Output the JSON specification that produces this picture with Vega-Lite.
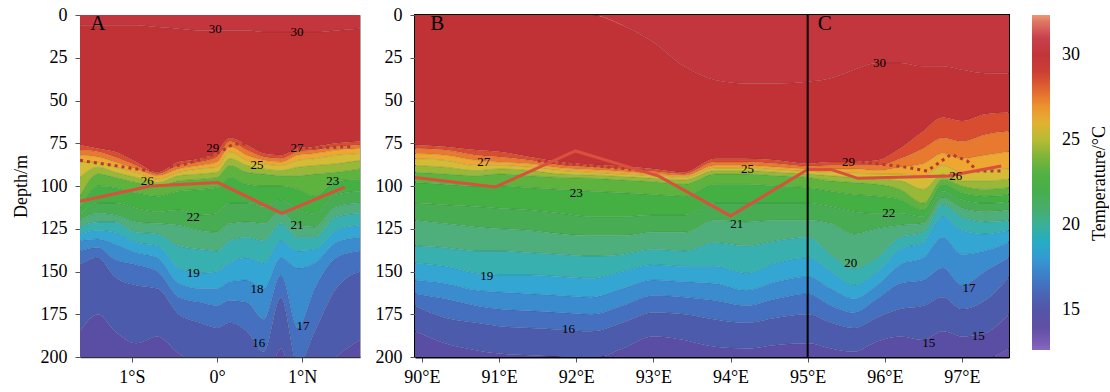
{
"$schema":"https://vega.github.io/schema/vega-lite/v6.json",
"background":"white",
"padding":{"left":11,"top":5,"right":0,"bottom":0},
"spacing":13,
"config":{
"font":"Liberation Serif",
"axis":{"labelFont":"Liberation Serif","titleFont":"Liberation Serif","labelFontSize":18,"titleFontSize":18,"titleFontWeight":"normal","labelColor":"#000","titleColor":"#000","grid":false,"tickColor":"#555","tickSize":5},
"text":{"font":"Liberation Serif"}
},
"datasets":{
"A":[
{"x":-1.61,"t":30.5,"d":0},{"x":-1.61,"t":29.5,"d":6},{"x":-1.61,"t":28.5,"d":76},{"x":-1.61,"t":27.5,"d":79},{"x":-1.61,"t":26.5,"d":82},{"x":-1.61,"t":25.5,"d":86},{"x":-1.61,"t":24.5,"d":95},{"x":-1.61,"t":23.5,"d":106},{"x":-1.61,"t":22.5,"d":113},{"x":-1.61,"t":21.5,"d":117},{"x":-1.61,"t":20.5,"d":120},{"x":-1.61,"t":19.5,"d":124},{"x":-1.61,"t":18.5,"d":128},{"x":-1.61,"t":17.5,"d":132},{"x":-1.61,"t":16.5,"d":138},{"x":-1.61,"t":15.5,"d":146},{"x":-1.61,"t":14.5,"d":185},{"x":-1.61,"t":0,"d":250},
{"x":-1.4,"t":30.5,"d":0},{"x":-1.4,"t":29.5,"d":6},{"x":-1.4,"t":28.5,"d":78},{"x":-1.4,"t":27.5,"d":80},{"x":-1.4,"t":26.5,"d":83},{"x":-1.4,"t":25.5,"d":86},{"x":-1.4,"t":24.5,"d":89},{"x":-1.4,"t":23.5,"d":93},{"x":-1.4,"t":22.5,"d":100},{"x":-1.4,"t":21.5,"d":110},{"x":-1.4,"t":20.5,"d":116},{"x":-1.4,"t":19.5,"d":121},{"x":-1.4,"t":18.5,"d":126},{"x":-1.4,"t":17.5,"d":131},{"x":-1.4,"t":16.5,"d":136},{"x":-1.4,"t":15.5,"d":142},{"x":-1.4,"t":14.5,"d":175},{"x":-1.4,"t":0,"d":250},
{"x":-1.2,"t":30.5,"d":0},{"x":-1.2,"t":29.5,"d":6},{"x":-1.2,"t":28.5,"d":80},{"x":-1.2,"t":27.5,"d":83},{"x":-1.2,"t":26.5,"d":86},{"x":-1.2,"t":25.5,"d":89},{"x":-1.2,"t":24.5,"d":92},{"x":-1.2,"t":23.5,"d":95},{"x":-1.2,"t":22.5,"d":101},{"x":-1.2,"t":21.5,"d":110},{"x":-1.2,"t":20.5,"d":117},{"x":-1.2,"t":19.5,"d":121},{"x":-1.2,"t":18.5,"d":127},{"x":-1.2,"t":17.5,"d":134},{"x":-1.2,"t":16.5,"d":143},{"x":-1.2,"t":15.5,"d":153},{"x":-1.2,"t":14.5,"d":185},{"x":-1.2,"t":0,"d":250},
{"x":-0.95,"t":30.5,"d":0},{"x":-0.95,"t":29.5,"d":6},{"x":-0.95,"t":28.5,"d":86},{"x":-0.95,"t":27.5,"d":88},{"x":-0.95,"t":26.5,"d":90},{"x":-0.95,"t":25.5,"d":92},{"x":-0.95,"t":24.5,"d":95},{"x":-0.95,"t":23.5,"d":98},{"x":-0.95,"t":22.5,"d":104},{"x":-0.95,"t":21.5,"d":113},{"x":-0.95,"t":20.5,"d":121},{"x":-0.95,"t":19.5,"d":127},{"x":-0.95,"t":18.5,"d":133},{"x":-0.95,"t":17.5,"d":139},{"x":-0.95,"t":16.5,"d":146},{"x":-0.95,"t":15.5,"d":158},{"x":-0.95,"t":14.5,"d":192},{"x":-0.95,"t":0,"d":250},
{"x":-0.7,"t":30.5,"d":0},{"x":-0.7,"t":29.5,"d":7},{"x":-0.7,"t":28.5,"d":92},{"x":-0.7,"t":27.5,"d":93},{"x":-0.7,"t":26.5,"d":94},{"x":-0.7,"t":25.5,"d":96},{"x":-0.7,"t":24.5,"d":98},{"x":-0.7,"t":23.5,"d":100},{"x":-0.7,"t":22.5,"d":106},{"x":-0.7,"t":21.5,"d":115},{"x":-0.7,"t":20.5,"d":122},{"x":-0.7,"t":19.5,"d":128},{"x":-0.7,"t":18.5,"d":135},{"x":-0.7,"t":17.5,"d":142},{"x":-0.7,"t":16.5,"d":150},{"x":-0.7,"t":15.5,"d":160},{"x":-0.7,"t":14.5,"d":188},{"x":-0.7,"t":0,"d":250},
{"x":-0.45,"t":30.5,"d":0},{"x":-0.45,"t":29.5,"d":8},{"x":-0.45,"t":28.5,"d":86},{"x":-0.45,"t":27.5,"d":88},{"x":-0.45,"t":26.5,"d":90},{"x":-0.45,"t":25.5,"d":92},{"x":-0.45,"t":24.5,"d":94},{"x":-0.45,"t":23.5,"d":97},{"x":-0.45,"t":22.5,"d":103},{"x":-0.45,"t":21.5,"d":114},{"x":-0.45,"t":20.5,"d":123},{"x":-0.45,"t":19.5,"d":135},{"x":-0.45,"t":18.5,"d":148},{"x":-0.45,"t":17.5,"d":157},{"x":-0.45,"t":16.5,"d":165},{"x":-0.45,"t":15.5,"d":175},{"x":-0.45,"t":14.5,"d":198},{"x":-0.45,"t":0,"d":250},
{"x":-0.2,"t":30.5,"d":0},{"x":-0.2,"t":29.5,"d":9},{"x":-0.2,"t":28.5,"d":84},{"x":-0.2,"t":27.5,"d":86},{"x":-0.2,"t":26.5,"d":88},{"x":-0.2,"t":25.5,"d":90},{"x":-0.2,"t":24.5,"d":93},{"x":-0.2,"t":23.5,"d":96},{"x":-0.2,"t":22.5,"d":102},{"x":-0.2,"t":21.5,"d":117},{"x":-0.2,"t":20.5,"d":126},{"x":-0.2,"t":19.5,"d":137},{"x":-0.2,"t":18.5,"d":151},{"x":-0.2,"t":17.5,"d":160},{"x":-0.2,"t":16.5,"d":168},{"x":-0.2,"t":15.5,"d":180},{"x":-0.2,"t":14.5,"d":205},{"x":-0.2,"t":0,"d":250},
{"x":0,"t":30.5,"d":0},{"x":0,"t":29.5,"d":9},{"x":0,"t":28.5,"d":80},{"x":0,"t":27.5,"d":83},{"x":0,"t":26.5,"d":86},{"x":0,"t":25.5,"d":89},{"x":0,"t":24.5,"d":92},{"x":0,"t":23.5,"d":95},{"x":0,"t":22.5,"d":101},{"x":0,"t":21.5,"d":116},{"x":0,"t":20.5,"d":127},{"x":0,"t":19.5,"d":138},{"x":0,"t":18.5,"d":150},{"x":0,"t":17.5,"d":160},{"x":0,"t":16.5,"d":170},{"x":0,"t":15.5,"d":183},{"x":0,"t":14.5,"d":210},{"x":0,"t":0,"d":250},
{"x":0.15,"t":30.5,"d":0},{"x":0.15,"t":29.5,"d":9},{"x":0.15,"t":28.5,"d":72},{"x":0.15,"t":27.5,"d":74},{"x":0.15,"t":26.5,"d":77},{"x":0.15,"t":25.5,"d":80},{"x":0.15,"t":24.5,"d":84},{"x":0.15,"t":23.5,"d":88},{"x":0.15,"t":22.5,"d":95},{"x":0.15,"t":21.5,"d":110},{"x":0.15,"t":20.5,"d":122},{"x":0.15,"t":19.5,"d":132},{"x":0.15,"t":18.5,"d":145},{"x":0.15,"t":17.5,"d":156},{"x":0.15,"t":16.5,"d":167},{"x":0.15,"t":15.5,"d":180},{"x":0.15,"t":14.5,"d":210},{"x":0.15,"t":0,"d":250},
{"x":0.35,"t":30.5,"d":0},{"x":0.35,"t":29.5,"d":9},{"x":0.35,"t":28.5,"d":76},{"x":0.35,"t":27.5,"d":79},{"x":0.35,"t":26.5,"d":82},{"x":0.35,"t":25.5,"d":85},{"x":0.35,"t":24.5,"d":88},{"x":0.35,"t":23.5,"d":92},{"x":0.35,"t":22.5,"d":99},{"x":0.35,"t":21.5,"d":110},{"x":0.35,"t":20.5,"d":121},{"x":0.35,"t":19.5,"d":130},{"x":0.35,"t":18.5,"d":142},{"x":0.35,"t":17.5,"d":155},{"x":0.35,"t":16.5,"d":168},{"x":0.35,"t":15.5,"d":185},{"x":0.35,"t":14.5,"d":215},{"x":0.35,"t":0,"d":250},
{"x":0.55,"t":30.5,"d":0},{"x":0.55,"t":29.5,"d":10},{"x":0.55,"t":28.5,"d":81},{"x":0.55,"t":27.5,"d":83},{"x":0.55,"t":26.5,"d":85},{"x":0.55,"t":25.5,"d":87},{"x":0.55,"t":24.5,"d":90},{"x":0.55,"t":23.5,"d":93},{"x":0.55,"t":22.5,"d":100},{"x":0.55,"t":21.5,"d":112},{"x":0.55,"t":20.5,"d":122},{"x":0.55,"t":19.5,"d":132},{"x":0.55,"t":18.5,"d":145},{"x":0.55,"t":17.5,"d":160},{"x":0.55,"t":16.5,"d":178},{"x":0.55,"t":15.5,"d":197},{"x":0.55,"t":14.5,"d":220},{"x":0.55,"t":0,"d":250},
{"x":0.75,"t":30.5,"d":0},{"x":0.75,"t":29.5,"d":10},{"x":0.75,"t":28.5,"d":82},{"x":0.75,"t":27.5,"d":84},{"x":0.75,"t":26.5,"d":86},{"x":0.75,"t":25.5,"d":88},{"x":0.75,"t":24.5,"d":91},{"x":0.75,"t":23.5,"d":94},{"x":0.75,"t":22.5,"d":100},{"x":0.75,"t":21.5,"d":108},{"x":0.75,"t":20.5,"d":115},{"x":0.75,"t":19.5,"d":122},{"x":0.75,"t":18.5,"d":132},{"x":0.75,"t":17.5,"d":142},{"x":0.75,"t":16.5,"d":152},{"x":0.75,"t":15.5,"d":165},{"x":0.75,"t":14.5,"d":195},{"x":0.75,"t":0,"d":250},
{"x":0.95,"t":30.5,"d":0},{"x":0.95,"t":29.5,"d":10},{"x":0.95,"t":28.5,"d":78},{"x":0.95,"t":27.5,"d":80},{"x":0.95,"t":26.5,"d":82},{"x":0.95,"t":25.5,"d":85},{"x":0.95,"t":24.5,"d":89},{"x":0.95,"t":23.5,"d":94},{"x":0.95,"t":22.5,"d":102},{"x":0.95,"t":21.5,"d":114},{"x":0.95,"t":20.5,"d":123},{"x":0.95,"t":19.5,"d":130},{"x":0.95,"t":18.5,"d":138},{"x":0.95,"t":17.5,"d":148},{"x":0.95,"t":16.5,"d":183},{"x":0.95,"t":15.5,"d":205},{"x":0.95,"t":14.5,"d":225},{"x":0.95,"t":0,"d":250},
{"x":1.15,"t":30.5,"d":0},{"x":1.15,"t":29.5,"d":10},{"x":1.15,"t":28.5,"d":77},{"x":1.15,"t":27.5,"d":79},{"x":1.15,"t":26.5,"d":81},{"x":1.15,"t":25.5,"d":84},{"x":1.15,"t":24.5,"d":88},{"x":1.15,"t":23.5,"d":93},{"x":1.15,"t":22.5,"d":106},{"x":1.15,"t":21.5,"d":116},{"x":1.15,"t":20.5,"d":124},{"x":1.15,"t":19.5,"d":130},{"x":1.15,"t":18.5,"d":137},{"x":1.15,"t":17.5,"d":145},{"x":1.15,"t":16.5,"d":160},{"x":1.15,"t":15.5,"d":185},{"x":1.15,"t":14.5,"d":215},{"x":1.15,"t":0,"d":250},
{"x":1.4,"t":30.5,"d":0},{"x":1.4,"t":29.5,"d":9},{"x":1.4,"t":28.5,"d":75},{"x":1.4,"t":27.5,"d":77},{"x":1.4,"t":26.5,"d":79},{"x":1.4,"t":25.5,"d":82},{"x":1.4,"t":24.5,"d":87},{"x":1.4,"t":23.5,"d":92},{"x":1.4,"t":22.5,"d":97},{"x":1.4,"t":21.5,"d":105},{"x":1.4,"t":20.5,"d":112},{"x":1.4,"t":19.5,"d":118},{"x":1.4,"t":18.5,"d":126},{"x":1.4,"t":17.5,"d":133},{"x":1.4,"t":16.5,"d":142},{"x":1.4,"t":15.5,"d":160},{"x":1.4,"t":14.5,"d":200},{"x":1.4,"t":0,"d":250},
{"x":1.68,"t":30.5,"d":0},{"x":1.68,"t":29.5,"d":8},{"x":1.68,"t":28.5,"d":74},{"x":1.68,"t":27.5,"d":76},{"x":1.68,"t":26.5,"d":78},{"x":1.68,"t":25.5,"d":81},{"x":1.68,"t":24.5,"d":85},{"x":1.68,"t":23.5,"d":90},{"x":1.68,"t":22.5,"d":96},{"x":1.68,"t":21.5,"d":103},{"x":1.68,"t":20.5,"d":110},{"x":1.68,"t":19.5,"d":116},{"x":1.68,"t":18.5,"d":123},{"x":1.68,"t":17.5,"d":130},{"x":1.68,"t":16.5,"d":138},{"x":1.68,"t":15.5,"d":150},{"x":1.68,"t":14.5,"d":190},{"x":1.68,"t":0,"d":250}
],
"B":[
{"x":89.91,"t":30.5,"d":0},{"x":89.91,"t":29.5,"d":0},{"x":89.91,"t":28.5,"d":76},{"x":89.91,"t":27.5,"d":78},{"x":89.91,"t":26.5,"d":81},{"x":89.91,"t":25.5,"d":84},{"x":89.91,"t":24.5,"d":88},{"x":89.91,"t":23.5,"d":92},{"x":89.91,"t":22.5,"d":98},{"x":89.91,"t":21.5,"d":110},{"x":89.91,"t":20.5,"d":120},{"x":89.91,"t":19.5,"d":135},{"x":89.91,"t":18.5,"d":145},{"x":89.91,"t":17.5,"d":155},{"x":89.91,"t":16.5,"d":163},{"x":89.91,"t":15.5,"d":170},{"x":89.91,"t":14.5,"d":185},{"x":89.91,"t":13.5,"d":205},{"x":89.91,"t":0,"d":250},
{"x":90.3,"t":30.5,"d":0},{"x":90.3,"t":29.5,"d":0},{"x":90.3,"t":28.5,"d":77},{"x":90.3,"t":27.5,"d":79},{"x":90.3,"t":26.5,"d":82},{"x":90.3,"t":25.5,"d":85},{"x":90.3,"t":24.5,"d":89},{"x":90.3,"t":23.5,"d":93},{"x":90.3,"t":22.5,"d":99},{"x":90.3,"t":21.5,"d":111},{"x":90.3,"t":20.5,"d":122},{"x":90.3,"t":19.5,"d":136},{"x":90.3,"t":18.5,"d":147},{"x":90.3,"t":17.5,"d":157},{"x":90.3,"t":16.5,"d":166},{"x":90.3,"t":15.5,"d":177},{"x":90.3,"t":14.5,"d":192},{"x":90.3,"t":13.5,"d":210},{"x":90.3,"t":0,"d":250},
{"x":90.7,"t":30.5,"d":0},{"x":90.7,"t":29.5,"d":0},{"x":90.7,"t":28.5,"d":79},{"x":90.7,"t":27.5,"d":82},{"x":90.7,"t":26.5,"d":85},{"x":90.7,"t":25.5,"d":88},{"x":90.7,"t":24.5,"d":91},{"x":90.7,"t":23.5,"d":94},{"x":90.7,"t":22.5,"d":100},{"x":90.7,"t":21.5,"d":112},{"x":90.7,"t":20.5,"d":124},{"x":90.7,"t":19.5,"d":138},{"x":90.7,"t":18.5,"d":151},{"x":90.7,"t":17.5,"d":161},{"x":90.7,"t":16.5,"d":170},{"x":90.7,"t":15.5,"d":180},{"x":90.7,"t":14.5,"d":196},{"x":90.7,"t":13.5,"d":215},{"x":90.7,"t":0,"d":250},
{"x":91.0,"t":30.5,"d":0},{"x":91.0,"t":29.5,"d":0},{"x":91.0,"t":28.5,"d":80},{"x":91.0,"t":27.5,"d":83},{"x":91.0,"t":26.5,"d":86},{"x":91.0,"t":25.5,"d":88},{"x":91.0,"t":24.5,"d":90},{"x":91.0,"t":23.5,"d":93},{"x":91.0,"t":22.5,"d":100},{"x":91.0,"t":21.5,"d":113},{"x":91.0,"t":20.5,"d":125},{"x":91.0,"t":19.5,"d":138},{"x":91.0,"t":18.5,"d":152},{"x":91.0,"t":17.5,"d":162},{"x":91.0,"t":16.5,"d":172},{"x":91.0,"t":15.5,"d":182},{"x":91.0,"t":14.5,"d":198},{"x":91.0,"t":13.5,"d":218},{"x":91.0,"t":0,"d":250},
{"x":91.4,"t":30.5,"d":0},{"x":91.4,"t":29.5,"d":0},{"x":91.4,"t":28.5,"d":83},{"x":91.4,"t":27.5,"d":85},{"x":91.4,"t":26.5,"d":87},{"x":91.4,"t":25.5,"d":89},{"x":91.4,"t":24.5,"d":91},{"x":91.4,"t":23.5,"d":94},{"x":91.4,"t":22.5,"d":101},{"x":91.4,"t":21.5,"d":114},{"x":91.4,"t":20.5,"d":126},{"x":91.4,"t":19.5,"d":139},{"x":91.4,"t":18.5,"d":152},{"x":91.4,"t":17.5,"d":163},{"x":91.4,"t":16.5,"d":173},{"x":91.4,"t":15.5,"d":183},{"x":91.4,"t":14.5,"d":199},{"x":91.4,"t":13.5,"d":220},{"x":91.4,"t":0,"d":250},
{"x":91.8,"t":30.5,"d":0},{"x":91.8,"t":29.5,"d":0},{"x":91.8,"t":28.5,"d":86},{"x":91.8,"t":27.5,"d":88},{"x":91.8,"t":26.5,"d":89.5},{"x":91.8,"t":25.5,"d":91},{"x":91.8,"t":24.5,"d":93},{"x":91.8,"t":23.5,"d":95},{"x":91.8,"t":22.5,"d":102},{"x":91.8,"t":21.5,"d":116},{"x":91.8,"t":20.5,"d":128},{"x":91.8,"t":19.5,"d":140},{"x":91.8,"t":18.5,"d":153},{"x":91.8,"t":17.5,"d":164},{"x":91.8,"t":16.5,"d":174},{"x":91.8,"t":15.5,"d":184},{"x":91.8,"t":14.5,"d":200},{"x":91.8,"t":13.5,"d":220},{"x":91.8,"t":0,"d":250},
{"x":92.2,"t":30.5,"d":0},{"x":92.2,"t":29.5,"d":0},{"x":92.2,"t":28.5,"d":87.5},{"x":92.2,"t":27.5,"d":89},{"x":92.2,"t":26.5,"d":90.5},{"x":92.2,"t":25.5,"d":92},{"x":92.2,"t":24.5,"d":93.5},{"x":92.2,"t":23.5,"d":95.5},{"x":92.2,"t":22.5,"d":103},{"x":92.2,"t":21.5,"d":118},{"x":92.2,"t":20.5,"d":129},{"x":92.2,"t":19.5,"d":141},{"x":92.2,"t":18.5,"d":154},{"x":92.2,"t":17.5,"d":165},{"x":92.2,"t":16.5,"d":175},{"x":92.2,"t":15.5,"d":185},{"x":92.2,"t":14.5,"d":201},{"x":92.2,"t":13.5,"d":220},{"x":92.2,"t":0,"d":250},
{"x":92.6,"t":30.5,"d":0},{"x":92.6,"t":29.5,"d":6},{"x":92.6,"t":28.5,"d":88.5},{"x":92.6,"t":27.5,"d":90},{"x":92.6,"t":26.5,"d":91.5},{"x":92.6,"t":25.5,"d":93},{"x":92.6,"t":24.5,"d":94.5},{"x":92.6,"t":23.5,"d":96.5},{"x":92.6,"t":22.5,"d":104},{"x":92.6,"t":21.5,"d":118},{"x":92.6,"t":20.5,"d":129},{"x":92.6,"t":19.5,"d":140},{"x":92.6,"t":18.5,"d":150},{"x":92.6,"t":17.5,"d":160},{"x":92.6,"t":16.5,"d":170},{"x":92.6,"t":15.5,"d":180},{"x":92.6,"t":14.5,"d":195},{"x":92.6,"t":13.5,"d":215},{"x":92.6,"t":0,"d":250},
{"x":93.0,"t":30.5,"d":0},{"x":93.0,"t":29.5,"d":16},{"x":93.0,"t":28.5,"d":90},{"x":93.0,"t":27.5,"d":91.5},{"x":93.0,"t":26.5,"d":93},{"x":93.0,"t":25.5,"d":94},{"x":93.0,"t":24.5,"d":95.5},{"x":93.0,"t":23.5,"d":97.5},{"x":93.0,"t":22.5,"d":105},{"x":93.0,"t":21.5,"d":117},{"x":93.0,"t":20.5,"d":127},{"x":93.0,"t":19.5,"d":137},{"x":93.0,"t":18.5,"d":146},{"x":93.0,"t":17.5,"d":155},{"x":93.0,"t":16.5,"d":164},{"x":93.0,"t":15.5,"d":174},{"x":93.0,"t":14.5,"d":188},{"x":93.0,"t":13.5,"d":210},{"x":93.0,"t":0,"d":250},
{"x":93.4,"t":30.5,"d":0},{"x":93.4,"t":29.5,"d":30},{"x":93.4,"t":28.5,"d":92},{"x":93.4,"t":27.5,"d":93},{"x":93.4,"t":26.5,"d":94},{"x":93.4,"t":25.5,"d":95},{"x":93.4,"t":24.5,"d":96.5},{"x":93.4,"t":23.5,"d":99},{"x":93.4,"t":22.5,"d":106},{"x":93.4,"t":21.5,"d":117},{"x":93.4,"t":20.5,"d":127},{"x":93.4,"t":19.5,"d":138},{"x":93.4,"t":18.5,"d":147},{"x":93.4,"t":17.5,"d":156},{"x":93.4,"t":16.5,"d":165},{"x":93.4,"t":15.5,"d":175},{"x":93.4,"t":14.5,"d":190},{"x":93.4,"t":13.5,"d":210},{"x":93.4,"t":0,"d":250},
{"x":93.8,"t":30.5,"d":0},{"x":93.8,"t":29.5,"d":38},{"x":93.8,"t":28.5,"d":84},{"x":93.8,"t":27.5,"d":86},{"x":93.8,"t":26.5,"d":88},{"x":93.8,"t":25.5,"d":89.5},{"x":93.8,"t":24.5,"d":91},{"x":93.8,"t":23.5,"d":93},{"x":93.8,"t":22.5,"d":99},{"x":93.8,"t":21.5,"d":110},{"x":93.8,"t":20.5,"d":120},{"x":93.8,"t":19.5,"d":133},{"x":93.8,"t":18.5,"d":147},{"x":93.8,"t":17.5,"d":157},{"x":93.8,"t":16.5,"d":167},{"x":93.8,"t":15.5,"d":178},{"x":93.8,"t":14.5,"d":194},{"x":93.8,"t":13.5,"d":215},{"x":93.8,"t":0,"d":250},
{"x":94.2,"t":30.5,"d":0},{"x":94.2,"t":29.5,"d":40},{"x":94.2,"t":28.5,"d":84},{"x":94.2,"t":27.5,"d":86},{"x":94.2,"t":26.5,"d":88},{"x":94.2,"t":25.5,"d":89.5},{"x":94.2,"t":24.5,"d":91},{"x":94.2,"t":23.5,"d":93},{"x":94.2,"t":22.5,"d":99},{"x":94.2,"t":21.5,"d":110},{"x":94.2,"t":20.5,"d":121},{"x":94.2,"t":19.5,"d":135},{"x":94.2,"t":18.5,"d":151},{"x":94.2,"t":17.5,"d":161},{"x":94.2,"t":16.5,"d":170},{"x":94.2,"t":15.5,"d":180},{"x":94.2,"t":14.5,"d":195},{"x":94.2,"t":13.5,"d":215},{"x":94.2,"t":0,"d":250},
{"x":94.6,"t":30.5,"d":0},{"x":94.6,"t":29.5,"d":40},{"x":94.6,"t":28.5,"d":85},{"x":94.6,"t":27.5,"d":87},{"x":94.6,"t":26.5,"d":89},{"x":94.6,"t":25.5,"d":90.5},{"x":94.6,"t":24.5,"d":92},{"x":94.6,"t":23.5,"d":94},{"x":94.6,"t":22.5,"d":100},{"x":94.6,"t":21.5,"d":110},{"x":94.6,"t":20.5,"d":120},{"x":94.6,"t":19.5,"d":132},{"x":94.6,"t":18.5,"d":145},{"x":94.6,"t":17.5,"d":156},{"x":94.6,"t":16.5,"d":166},{"x":94.6,"t":15.5,"d":177},{"x":94.6,"t":14.5,"d":193},{"x":94.6,"t":13.5,"d":212},{"x":94.6,"t":0,"d":250},
{"x":95.0,"t":30.5,"d":0},{"x":95.0,"t":29.5,"d":39},{"x":95.0,"t":28.5,"d":87},{"x":95.0,"t":27.5,"d":88.5},{"x":95.0,"t":26.5,"d":90},{"x":95.0,"t":25.5,"d":91.5},{"x":95.0,"t":24.5,"d":93},{"x":95.0,"t":23.5,"d":95},{"x":95.0,"t":22.5,"d":101},{"x":95.0,"t":21.5,"d":110},{"x":95.0,"t":20.5,"d":120},{"x":95.0,"t":19.5,"d":130},{"x":95.0,"t":18.5,"d":142},{"x":95.0,"t":17.5,"d":153},{"x":95.0,"t":16.5,"d":163},{"x":95.0,"t":15.5,"d":175},{"x":95.0,"t":14.5,"d":192},{"x":95.0,"t":13.5,"d":210},{"x":95.0,"t":0,"d":250},
{"x":95.3,"t":30.5,"d":0},{"x":95.3,"t":29.5,"d":37},{"x":95.3,"t":28.5,"d":86},{"x":95.3,"t":27.5,"d":88},{"x":95.3,"t":26.5,"d":90},{"x":95.3,"t":25.5,"d":92},{"x":95.3,"t":24.5,"d":94},{"x":95.3,"t":23.5,"d":97},{"x":95.3,"t":22.5,"d":103},{"x":95.3,"t":21.5,"d":112},{"x":95.3,"t":20.5,"d":122},{"x":95.3,"t":19.5,"d":140},{"x":95.3,"t":18.5,"d":150},{"x":95.3,"t":17.5,"d":160},{"x":95.3,"t":16.5,"d":170},{"x":95.3,"t":15.5,"d":180},{"x":95.3,"t":14.5,"d":195},{"x":95.3,"t":13.5,"d":212},{"x":95.3,"t":0,"d":250},
{"x":95.6,"t":30.5,"d":0},{"x":95.6,"t":29.5,"d":32},{"x":95.6,"t":28.5,"d":86},{"x":95.6,"t":27.5,"d":88},{"x":95.6,"t":26.5,"d":90},{"x":95.6,"t":25.5,"d":92.5},{"x":95.6,"t":24.5,"d":95},{"x":95.6,"t":23.5,"d":98},{"x":95.6,"t":22.5,"d":105},{"x":95.6,"t":21.5,"d":115},{"x":95.6,"t":20.5,"d":128},{"x":95.6,"t":19.5,"d":148},{"x":95.6,"t":18.5,"d":158},{"x":95.6,"t":17.5,"d":166},{"x":95.6,"t":16.5,"d":174},{"x":95.6,"t":15.5,"d":183},{"x":95.6,"t":14.5,"d":197},{"x":95.6,"t":13.5,"d":212},{"x":95.6,"t":0,"d":250},
{"x":95.9,"t":30.5,"d":0},{"x":95.9,"t":29.5,"d":28},{"x":95.9,"t":28.5,"d":85},{"x":95.9,"t":27.5,"d":88},{"x":95.9,"t":26.5,"d":91},{"x":95.9,"t":25.5,"d":93},{"x":95.9,"t":24.5,"d":96},{"x":95.9,"t":23.5,"d":99},{"x":95.9,"t":22.5,"d":106},{"x":95.9,"t":21.5,"d":116},{"x":95.9,"t":20.5,"d":125},{"x":95.9,"t":19.5,"d":142},{"x":95.9,"t":18.5,"d":150},{"x":95.9,"t":17.5,"d":158},{"x":95.9,"t":16.5,"d":166},{"x":95.9,"t":15.5,"d":177},{"x":95.9,"t":14.5,"d":191},{"x":95.9,"t":13.5,"d":208},{"x":95.9,"t":0,"d":250},
{"x":96.2,"t":30.5,"d":0},{"x":96.2,"t":29.5,"d":28},{"x":96.2,"t":28.5,"d":78},{"x":96.2,"t":27.5,"d":84},{"x":96.2,"t":26.5,"d":89},{"x":96.2,"t":25.5,"d":93},{"x":96.2,"t":24.5,"d":97},{"x":96.2,"t":23.5,"d":102},{"x":96.2,"t":22.5,"d":108},{"x":96.2,"t":21.5,"d":116},{"x":96.2,"t":20.5,"d":123},{"x":96.2,"t":19.5,"d":130},{"x":96.2,"t":18.5,"d":137},{"x":96.2,"t":17.5,"d":146},{"x":96.2,"t":16.5,"d":157},{"x":96.2,"t":15.5,"d":172},{"x":96.2,"t":14.5,"d":188},{"x":96.2,"t":13.5,"d":205},{"x":96.2,"t":0,"d":250},
{"x":96.5,"t":30.5,"d":0},{"x":96.5,"t":29.5,"d":30},{"x":96.5,"t":28.5,"d":68},{"x":96.5,"t":27.5,"d":78},{"x":96.5,"t":26.5,"d":87},{"x":96.5,"t":25.5,"d":94},{"x":96.5,"t":24.5,"d":102},{"x":96.5,"t":23.5,"d":110},{"x":96.5,"t":22.5,"d":114},{"x":96.5,"t":21.5,"d":118},{"x":96.5,"t":20.5,"d":122},{"x":96.5,"t":19.5,"d":127},{"x":96.5,"t":18.5,"d":133},{"x":96.5,"t":17.5,"d":142},{"x":96.5,"t":16.5,"d":155},{"x":96.5,"t":15.5,"d":170},{"x":96.5,"t":14.5,"d":190},{"x":96.5,"t":13.5,"d":210},{"x":96.5,"t":0,"d":250},
{"x":96.75,"t":30.5,"d":0},{"x":96.75,"t":29.5,"d":30},{"x":96.75,"t":28.5,"d":60},{"x":96.75,"t":27.5,"d":72},{"x":96.75,"t":26.5,"d":81},{"x":96.75,"t":25.5,"d":88},{"x":96.75,"t":24.5,"d":93},{"x":96.75,"t":23.5,"d":96},{"x":96.75,"t":22.5,"d":99},{"x":96.75,"t":21.5,"d":103},{"x":96.75,"t":20.5,"d":107},{"x":96.75,"t":19.5,"d":111},{"x":96.75,"t":18.5,"d":118},{"x":96.75,"t":17.5,"d":130},{"x":96.75,"t":16.5,"d":148},{"x":96.75,"t":15.5,"d":165},{"x":96.75,"t":14.5,"d":185},{"x":96.75,"t":13.5,"d":205},{"x":96.75,"t":0,"d":250},
{"x":97.0,"t":30.5,"d":0},{"x":97.0,"t":29.5,"d":32},{"x":97.0,"t":28.5,"d":62},{"x":97.0,"t":27.5,"d":74},{"x":97.0,"t":26.5,"d":84},{"x":97.0,"t":25.5,"d":92},{"x":97.0,"t":24.5,"d":97},{"x":97.0,"t":23.5,"d":100},{"x":97.0,"t":22.5,"d":104},{"x":97.0,"t":21.5,"d":108},{"x":97.0,"t":20.5,"d":113},{"x":97.0,"t":19.5,"d":118},{"x":97.0,"t":18.5,"d":126},{"x":97.0,"t":17.5,"d":140},{"x":97.0,"t":16.5,"d":158},{"x":97.0,"t":15.5,"d":172},{"x":97.0,"t":14.5,"d":188},{"x":97.0,"t":13.5,"d":205},{"x":97.0,"t":0,"d":250},
{"x":97.3,"t":30.5,"d":0},{"x":97.3,"t":29.5,"d":34},{"x":97.3,"t":28.5,"d":58},{"x":97.3,"t":27.5,"d":70},{"x":97.3,"t":26.5,"d":82},{"x":97.3,"t":25.5,"d":91},{"x":97.3,"t":24.5,"d":97},{"x":97.3,"t":23.5,"d":102},{"x":97.3,"t":22.5,"d":106},{"x":97.3,"t":21.5,"d":110},{"x":97.3,"t":20.5,"d":115},{"x":97.3,"t":19.5,"d":121},{"x":97.3,"t":18.5,"d":128},{"x":97.3,"t":17.5,"d":138},{"x":97.3,"t":16.5,"d":150},{"x":97.3,"t":15.5,"d":167},{"x":97.3,"t":14.5,"d":186},{"x":97.3,"t":13.5,"d":202},{"x":97.3,"t":0,"d":250},
{"x":97.61,"t":30.5,"d":0},{"x":97.61,"t":29.5,"d":34},{"x":97.61,"t":28.5,"d":57},{"x":97.61,"t":27.5,"d":68},{"x":97.61,"t":26.5,"d":80},{"x":97.61,"t":25.5,"d":90},{"x":97.61,"t":24.5,"d":96},{"x":97.61,"t":23.5,"d":101},{"x":97.61,"t":22.5,"d":105},{"x":97.61,"t":21.5,"d":109},{"x":97.61,"t":20.5,"d":114},{"x":97.61,"t":19.5,"d":120},{"x":97.61,"t":18.5,"d":126},{"x":97.61,"t":17.5,"d":133},{"x":97.61,"t":16.5,"d":142},{"x":97.61,"t":15.5,"d":153},{"x":97.61,"t":14.5,"d":175},{"x":97.61,"t":13.5,"d":195},{"x":97.61,"t":0,"d":250}
],
"Asol":[{"x":-1.61,"d":109},{"x":-0.78,"d":100},{"x":0.01,"d":98},{"x":0.76,"d":116},{"x":1.5,"d":100.6}],
"Adot":[{"x":-1.61,"d":85},{"x":-0.82,"d":91},{"x":-0.35,"d":87},{"x":0.04,"d":80},{"x":0.19,"d":75.5},{"x":0.35,"d":75.5},{"x":0.86,"d":78},{"x":1.6,"d":77}],
"Alab":[{"x":-0.02,"d":8,"s":"30"},{"x":0.94,"d":10,"s":"30"},{"x":-0.05,"d":78,"s":"29"},{"x":0.94,"d":78,"s":"27"},{"x":-0.82,"d":97,"s":"26"},{"x":0.47,"d":88,"s":"25"},{"x":1.36,"d":97,"s":"23"},{"x":-0.28,"d":118,"s":"22"},{"x":0.94,"d":123,"s":"21"},{"x":-0.28,"d":151,"s":"19"},{"x":0.47,"d":160,"s":"18"},{"x":1.01,"d":182,"s":"17"},{"x":0.49,"d":192,"s":"16"}],
"Alet":[{"x":-1.4,"d":5.3,"s":"A"}],
"Bsol":[{"x":89.91,"d":95},{"x":90.95,"d":100.6},{"x":91.99,"d":79.5},{"x":93.07,"d":94.2},{"x":94.0,"d":117.5},{"x":95.0,"d":90.3},{"x":95.3,"d":90.3},{"x":95.65,"d":95.5},{"x":96.82,"d":94.2},{"x":97.51,"d":88.3}],
"Bdot":[{"g":1,"x":91.5,"d":85.4},{"g":1,"x":92.2,"d":88},{"g":1,"x":92.94,"d":91.2},{"g":2,"x":95.7,"d":86},{"g":2,"x":96.2,"d":88.5},{"g":2,"x":96.55,"d":91.2},{"g":2,"x":96.86,"d":81.5},{"g":2,"x":97.07,"d":85.4},{"g":2,"x":97.2,"d":91.2},{"g":2,"x":97.55,"d":91.2}],
"Blab":[{"x":90.8,"d":86,"s":"27"},{"x":92.0,"d":104,"s":"23"},{"x":94.22,"d":90,"s":"25"},{"x":94.08,"d":122,"s":"21"},{"x":90.84,"d":152.6,"s":"19"},{"x":91.9,"d":183.6,"s":"16"},{"x":95.53,"d":86,"s":"29"},{"x":96.92,"d":94,"s":"26"},{"x":95.93,"d":28,"s":"30"},{"x":96.05,"d":116,"s":"22"},{"x":95.56,"d":145,"s":"20"},{"x":97.09,"d":159.5,"s":"17"},{"x":96.57,"d":191.6,"s":"15"},{"x":97.21,"d":187.7,"s":"15"}],
"Blet":[{"x":90.2,"d":5.3,"s":"B"},{"x":95.22,"d":5.3,"s":"C"}],
"Brule":[{"x":95,"d":0,"d2":200}]
},
"hconcat":[
{
"width":280,"height":342,
"view":{"stroke":"#aaa","strokeWidth":1},
"encoding":{
"x":{"field":"x","type":"quantitative","scale":{"domain":[-1.61,1.68],"nice":false,"zero":false},"axis":{"title":null,"values":[-1,0,1],"labelExpr":"datum.value == 0 ? '0°' : (datum.value < 0 ? '1°S' : '1°N')","domainColor":"#333","domainWidth":1.5,"labelPadding":6}},
"y":{"field":"d","type":"quantitative","stack":null,"scale":{"domain":[0,200],"reverse":true,"nice":false,"zero":false},"axis":{"title":"Depth/m","values":[0,25,50,75,100,125,150,175,200],"domain":false,"labelPadding":8,"titlePadding":10}}
},
"layer":[
{
"data":{"name":"A"},
"transform":[{"window":[{"op":"lead","field":"d","as":"e"}],"groupby":["x"],"sort":[{"field":"d","order":"ascending"},{"field":"t","order":"descending"}]},{"filter":"datum.e != null"}],
"mark":{"type":"area","interpolate":"monotone","clip":true},
"encoding":{
"y2":{"field":"e"},
"color":{"field":"t","type":"quantitative","scale":{"domain":[12.65,13.5,14.5,15.5,16.5,17.5,18.5,19.5,20.5,21.5,22.5,23.5,24.5,25.5,26.5,27.5,28.5,29.5,30.5,31.5,32.35],"range":["#8a68c0","#6650a8","#5a4ea4","#4d5bac","#4470bf","#3a8ccf","#34a6d4","#38b0b0","#4eae7c","#48ac52","#44b044","#5eb23e","#98b838","#d4bc36","#eea832","#e87a30","#d84c30","#c03236","#c4363e","#cc4a5a","#eb9a72"]},
"legend":{"type":"gradient","title":null,"orient":"none","legendX":952,"legendY":0,"direction":"vertical","gradientLength":335,"gradientThickness":18,"gradientStrokeWidth":0,"values":[15,20,25,30],"labelOffset":12,"labelFontSize":18,"labelFont":"Liberation Serif","labelColor":"#000"}}
}
},
{
"data":{"name":"A"},
"transform":[{"window":[{"op":"lead","field":"d","as":"e"}],"groupby":["x"],"sort":[{"field":"d","order":"ascending"},{"field":"t","order":"descending"}]},{"filter":"datum.e != null && datum.d > 0"}],
"mark":{"type":"line","interpolate":"monotone","clip":true,"stroke":"#000","strokeOpacity":0.13,"strokeWidth":1},
"encoding":{"detail":{"field":"t"}}
},
{
"data":{"name":"Adot"},
"mark":{"type":"line","stroke":"#b33a30","strokeWidth":3,"strokeDash":[3,4],"clip":true},
"encoding":{}
},
{
"data":{"name":"Asol"},
"mark":{"type":"line","stroke":"#d9503c","strokeWidth":3,"clip":true},
"encoding":{}
},
{
"data":{"name":"Alab"},
"mark":{"type":"text","fontSize":13,"color":"#000","align":"center","baseline":"middle"},
"encoding":{"text":{"field":"s"}}
},
{
"data":{"name":"Alet"},
"mark":{"type":"text","fontSize":21,"color":"#000","align":"center","baseline":"middle"},
"encoding":{"text":{"field":"s"}}
}
]
},
{
"width":594,"height":342,
"view":{"stroke":"#000","strokeWidth":2},
"resolve":{"axis":{"y":"independent"}},
"encoding":{
"x":{"field":"x","type":"quantitative","scale":{"domain":[89.91,97.61],"nice":false,"zero":false},"axis":{"title":null,"values":[90,91,92,93,94,95,96,97],"labelExpr":"datum.value + '°E'","domainColor":"#000","domainWidth":2,"labelPadding":6}}
},
"layer":[
{
"data":{"name":"B"},
"transform":[{"window":[{"op":"lead","field":"d","as":"e"}],"groupby":["x"],"sort":[{"field":"d","order":"ascending"},{"field":"t","order":"descending"}]},{"filter":"datum.e != null"}],
"mark":{"type":"area","interpolate":"monotone","clip":true},
"encoding":{
"y":{"field":"d","type":"quantitative","stack":null,"scale":{"domain":[0,200],"reverse":true,"nice":false,"zero":false},"axis":{"title":null,"values":[0,25,50,75,100,125,150,175,200],"domain":false,"labelPadding":8}},
"y2":{"field":"e"},
"color":{"field":"t","type":"quantitative","scale":{"domain":[12.65,13.5,14.5,15.5,16.5,17.5,18.5,19.5,20.5,21.5,22.5,23.5,24.5,25.5,26.5,27.5,28.5,29.5,30.5,31.5,32.35],"range":["#8a68c0","#6650a8","#5a4ea4","#4d5bac","#4470bf","#3a8ccf","#34a6d4","#38b0b0","#4eae7c","#48ac52","#44b044","#5eb23e","#98b838","#d4bc36","#eea832","#e87a30","#d84c30","#c03236","#c4363e","#cc4a5a","#eb9a72"]},
"legend":{"type":"gradient","title":null,"orient":"none","legendX":952,"legendY":0,"direction":"vertical","gradientLength":335,"gradientThickness":18,"gradientStrokeWidth":0,"values":[15,20,25,30],"labelOffset":12,"labelFontSize":18,"labelFont":"Liberation Serif","labelColor":"#000"}}
}
},
{
"data":{"name":"B"},
"transform":[{"window":[{"op":"lead","field":"d","as":"e"}],"groupby":["x"],"sort":[{"field":"d","order":"ascending"},{"field":"t","order":"descending"}]},{"filter":"datum.e != null && datum.d > 0"}],
"mark":{"type":"line","interpolate":"monotone","clip":true,"stroke":"#000","strokeOpacity":0.13,"strokeWidth":1},
"encoding":{"y":{"field":"d","type":"quantitative","scale":{"domain":[0,200],"reverse":true,"nice":false,"zero":false},"axis":null},"detail":{"field":"t"}}
},
{
"data":{"name":"Bdot"},
"mark":{"type":"line","stroke":"#b33a30","strokeWidth":3,"strokeDash":[3,4],"clip":true},
"encoding":{"y":{"field":"d","type":"quantitative","scale":{"domain":[0,200],"reverse":true,"nice":false,"zero":false},"axis":null},"detail":{"field":"g"}}
},
{
"data":{"name":"Bsol"},
"mark":{"type":"line","stroke":"#d9503c","strokeWidth":3,"clip":true},
"encoding":{"y":{"field":"d","type":"quantitative","scale":{"domain":[0,200],"reverse":true,"nice":false,"zero":false},"axis":null}}
},
{
"data":{"name":"Brule"},
"mark":{"type":"rule","stroke":"#000","strokeWidth":2},
"encoding":{"y":{"field":"d","type":"quantitative","scale":{"domain":[0,200],"reverse":true,"nice":false,"zero":false},"axis":{"orient":"right","title":"Temperature/°C","titleAngle":270,"titleX":90,"titleY":168,"titleAlign":"center","titleBaseline":"middle","labels":false,"ticks":false,"domain":false,"grid":false}},"y2":{"field":"d2"}}
},
{
"data":{"name":"Blab"},
"mark":{"type":"text","fontSize":13,"color":"#000","align":"center","baseline":"middle"},
"encoding":{"y":{"field":"d","type":"quantitative","scale":{"domain":[0,200],"reverse":true,"nice":false,"zero":false},"axis":null},"text":{"field":"s"}}
},
{
"data":{"name":"Blet"},
"mark":{"type":"text","fontSize":21,"color":"#000","align":"center","baseline":"middle"},
"encoding":{"y":{"field":"d","type":"quantitative","scale":{"domain":[0,200],"reverse":true,"nice":false,"zero":false},"axis":null},"text":{"field":"s"}}
}
]
}
]
}
